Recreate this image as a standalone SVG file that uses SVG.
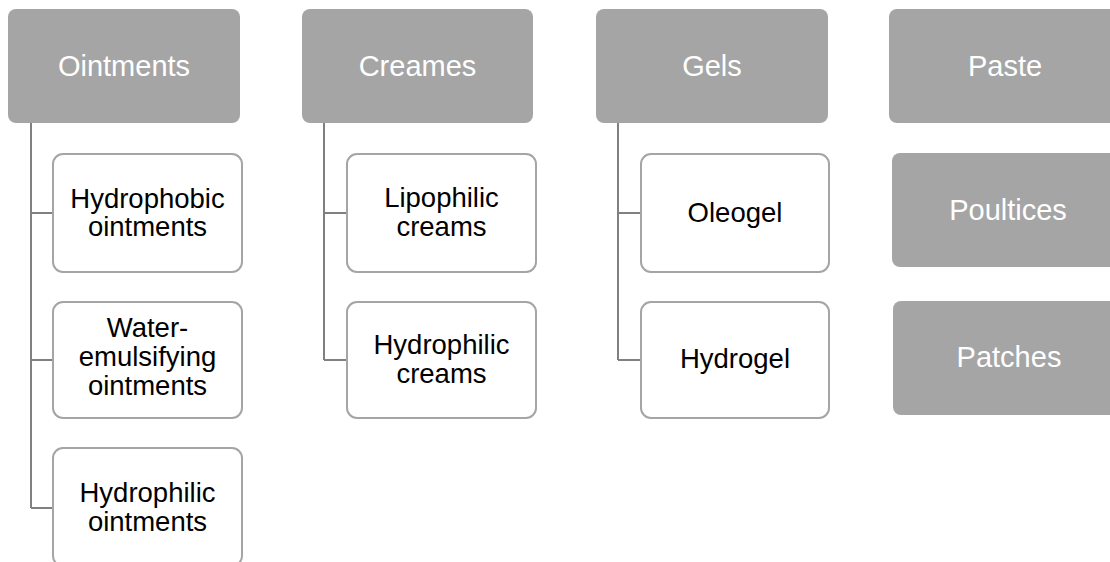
<svg xmlns="http://www.w3.org/2000/svg" width="1110" height="562" viewBox="0 0 1110 562">
<style>
.hdr{fill:#a5a5a5;}
.hdr-t{fill:#ffffff;font-family:"Liberation Sans",Arial,sans-serif;font-size:29px;text-anchor:middle;}
.ch{fill:#ffffff;stroke:#a5a5a5;stroke-width:2;}
.ch-t{fill:#000000;font-family:"Liberation Sans",Arial,sans-serif;font-size:27.5px;text-anchor:middle;}
.con{fill:none;stroke:#808080;stroke-width:2;}
</style>
<rect width="1110" height="562" fill="#ffffff"/>
<g id="connectors">
<path class="con" d="M31,123 V508 M31,213 H53 M31,360 H53 M31,508 H53"/>
<path class="con" d="M324,123 V360 M324,213 H347 M324,360 H347"/>
<path class="con" d="M618,123 V360 M618,213 H641 M618,360 H641"/>
</g>
<g id="ointments"><rect class="hdr" x="8" y="9" width="232" height="114" rx="8"/><text class="hdr-t" x="124" y="76">Ointments</text></g>
<g id="hydrophobic-ointments"><rect class="ch" x="53" y="154" width="189" height="118" rx="10"/><text class="ch-t" x="147.5" y="207.5">Hydrophobic</text><text class="ch-t" x="147.5" y="236">ointments</text></g>
<g id="water-emulsifying-ointments"><rect class="ch" x="53" y="302" width="189" height="116" rx="10"/><text class="ch-t" x="147.5" y="337">Water-</text><text class="ch-t" x="147.5" y="366">emulsifying</text><text class="ch-t" x="147.5" y="395">ointments</text></g>
<g id="hydrophilic-ointments"><rect class="ch" x="53" y="448" width="189" height="118" rx="10"/><text class="ch-t" x="147.5" y="502">Hydrophilic</text><text class="ch-t" x="147.5" y="530.5">ointments</text></g>
<g id="creames"><rect class="hdr" x="302" y="9" width="231" height="114" rx="8"/><text class="hdr-t" x="417.5" y="76">Creames</text></g>
<g id="lipophilic-creams"><rect class="ch" x="347" y="154" width="189" height="118" rx="10"/><text class="ch-t" x="441.5" y="207">Lipophilic</text><text class="ch-t" x="441.5" y="235.5">creams</text></g>
<g id="hydrophilic-creams"><rect class="ch" x="347" y="302" width="189" height="116" rx="10"/><text class="ch-t" x="441.5" y="354">Hydrophilic</text><text class="ch-t" x="441.5" y="382.5">creams</text></g>
<g id="gels"><rect class="hdr" x="596" y="9" width="232" height="114" rx="8"/><text class="hdr-t" x="712" y="76">Gels</text></g>
<g id="oleogel"><rect class="ch" x="641" y="154" width="188" height="118" rx="10"/><text class="ch-t" x="735" y="222">Oleogel</text></g>
<g id="hydrogel"><rect class="ch" x="641" y="302" width="188" height="116" rx="10"/><text class="ch-t" x="735" y="368">Hydrogel</text></g>
<g id="paste"><rect class="hdr" x="889" y="9" width="232" height="114" rx="8"/><text class="hdr-t" x="1005" y="76">Paste</text></g>
<g id="poultices"><rect class="hdr" x="892" y="153" width="232" height="114" rx="8"/><text class="hdr-t" x="1008" y="220">Poultices</text></g>
<g id="patches"><rect class="hdr" x="893" y="301" width="232" height="114" rx="8"/><text class="hdr-t" x="1009" y="367">Patches</text></g>
</svg>
